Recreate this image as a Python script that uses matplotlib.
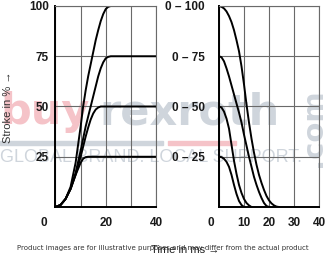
import matplotlib
matplotlib.use("Agg")

import matplotlib.pyplot as plt
import matplotlib.transforms as mtransforms
from matplotlib.patches import Rectangle

# opening curves (stroke in % vs time in ms)
t_open = [0, 2, 4, 6, 8, 10, 11, 12, 13, 14, 15, 16, 17, 18, 19, 20, 21, 22, 40]
open_100 = [0, 1, 4, 10, 22, 40, 50, 58, 65, 71, 77, 83, 88, 92.5, 96, 98.5, 99.6, 100, 100]
open_75 = [0, 1, 4, 9, 17, 28, 34, 40, 45, 50, 55, 60, 65, 69, 72, 74, 74.7, 75, 75]
open_50 = [0, 1, 4, 9, 16, 25, 30, 35, 39.5, 43.5, 46.5, 48.5, 49.5, 50, 50, 50, 50, 50, 50]
open_25 = [0, 1, 4, 9, 16, 22, 24, 24.8, 25, 25, 25, 25, 25, 25, 25, 25, 25, 25, 25]

# closing curves
t_close_100 = list(range(0, 25))
close_100 = [100, 99.6, 98.8, 97.3, 95, 92, 88, 83, 77.5, 70, 61, 51, 42, 34, 27, 21,
             16, 12, 8.5, 5.5, 3.3, 1.8, 0.8, 0.2, 0]
t_close_75 = list(range(0, 21))
close_75 = [75, 74.5, 72.5, 69, 65, 60.5, 56, 51.5, 47, 42, 36, 30.5, 25, 20, 15,
            11, 7.5, 4.5, 2, 0.5, 0]
t_close_50 = list(range(0, 14))
close_50 = [50, 49.5, 47.5, 44, 39, 31, 23, 16.5, 11, 7, 4, 2, 0.8, 0]
t_close_25 = list(range(0, 11))
close_25 = [25, 24.8, 24, 22.5, 20, 16, 11, 6.5, 3, 1, 0]

left_yticks = [25, 50, 75, 100]
left_ylabels = ["25", "50", "75", "100"]
right_ylabels = ["0 – 25", "0 – 50", "0 – 75", "0 – 100"]
left_xticks = [0, 20, 40]
right_xticks = [0, 10, 20, 30, 40]

GRID = "#6a6a6a"
PINK = "#f5c3c8"
GREY = "#cfd5dc"
FONT = ["Liberation Sans", "DejaVu Sans"]


def style_axes(ax, xticks, ylabels, ypad, zero_shift):
    ax.set_facecolor("none")
    ax.set_xlim(0, 40)
    ax.set_ylim(0, 100)
    ax.set_xticks(xticks)
    ax.set_yticks(left_yticks)
    ax.set_yticklabels(ylabels)
    ax.set_xticks([10, 20, 30], minor=True)
    ax.grid(True, which="both", axis="x", color=GRID, linewidth=0.8)
    ax.grid(True, axis="y", color=GRID, linewidth=0.8)
    ax.tick_params(which="both", length=0)
    ax.tick_params(axis="y", pad=ypad)
    ax.tick_params(axis="x", pad=7.5)
    for lab in ax.get_xticklabels() + ax.get_yticklabels():
        lab.set_fontfamily(FONT)
        lab.set_fontweight("bold")
        lab.set_fontsize(8.5)
        lab.set_color("#1a1a1a")
    for side in ["top", "right"]:
        ax.spines[side].set_color(GRID)
        ax.spines[side].set_linewidth(0.8)
    for side in ["left", "bottom"]:
        ax.spines[side].set_color("black")
        ax.spines[side].set_linewidth(1.4)
    # the "0" label sits a bit left of the origin in the source
    first = ax.get_xticklabels()[0]
    offset = mtransforms.ScaledTranslation(zero_shift / 72, 0, ax.figure.dpi_scale_trans)
    first.set_transform(first.get_transform() + offset)


def add_watermark(fig):
    fig.text(0.0, 1 - 124 / 257, "buy", color=PINK, fontsize=31,
             fontweight="bold", va="baseline", ha="left", zorder=-2)
    fig.text(99 / 326, 1 - 124 / 257, "rexroth", color=GREY, fontsize=31,
             fontweight="bold", va="baseline", ha="left", zorder=-2)
    fig.text(0.0, 1 - 158 / 257, "GLOBAL BRAND. LOCAL SUPPORT.", color=GREY,
             fontsize=13, family=FONT, va="center", ha="left", zorder=-2)
    fig.text(313 / 326, 1 - 128 / 257, ".com", color=GREY, fontsize=21,
             fontweight="bold", rotation=90, va="center", ha="center", zorder=-2)
    fig.patches.append(Rectangle((0, 1 - 145 / 257), 163 / 326, 4 / 257,
                                 transform=fig.transFigure, color=GREY, zorder=-3))
    fig.patches.append(Rectangle((168 / 326, 1 - 145 / 257), 68 / 326, 4 / 257,
                                 transform=fig.transFigure, color=PINK, zorder=-3))


def main() -> None:
    fig = plt.figure(figsize=(3.26, 2.57), dpi=100)
    add_watermark(fig)

    ax1 = fig.add_axes([55.5 / 326, 50 / 257, 100.5 / 326, 201 / 257])
    ax2 = fig.add_axes([219 / 326, 50 / 257, 100 / 326, 201 / 257])

    for y in [open_100, open_75, open_50, open_25]:
        ax1.plot(t_open, y, color="black", linewidth=1.4)
    ax2.plot(t_close_100, close_100, color="black", linewidth=1.4)
    ax2.plot(t_close_75, close_75, color="black", linewidth=1.4)
    ax2.plot(t_close_50, close_50, color="black", linewidth=1.4)
    ax2.plot(t_close_25, close_25, color="black", linewidth=1.4)

    style_axes(ax1, left_xticks, left_ylabels, 4.7, -8.3)
    style_axes(ax2, right_xticks, right_ylabels, 10, -5.8)

    fig.text(8 / 326, 1 - 107 / 257, "Stroke in % →", rotation=90, family=FONT,
             fontsize=8, color="#333333", va="center", ha="center")
    fig.text(185 / 326, 1 - 250 / 257, "Time in ms →", family=FONT,
             fontsize=8, color="#222222", va="center", ha="center")
    fig.text(163 / 326, 1 - 248 / 257,
             "Product images are for illustrative purposes and may differ from the actual product",
             fontsize=5, color="#333333", va="center", ha="center")

    fig.savefig("out.png", dpi=100)
    plt.close(fig)


if __name__ == "__main__":
    main()
